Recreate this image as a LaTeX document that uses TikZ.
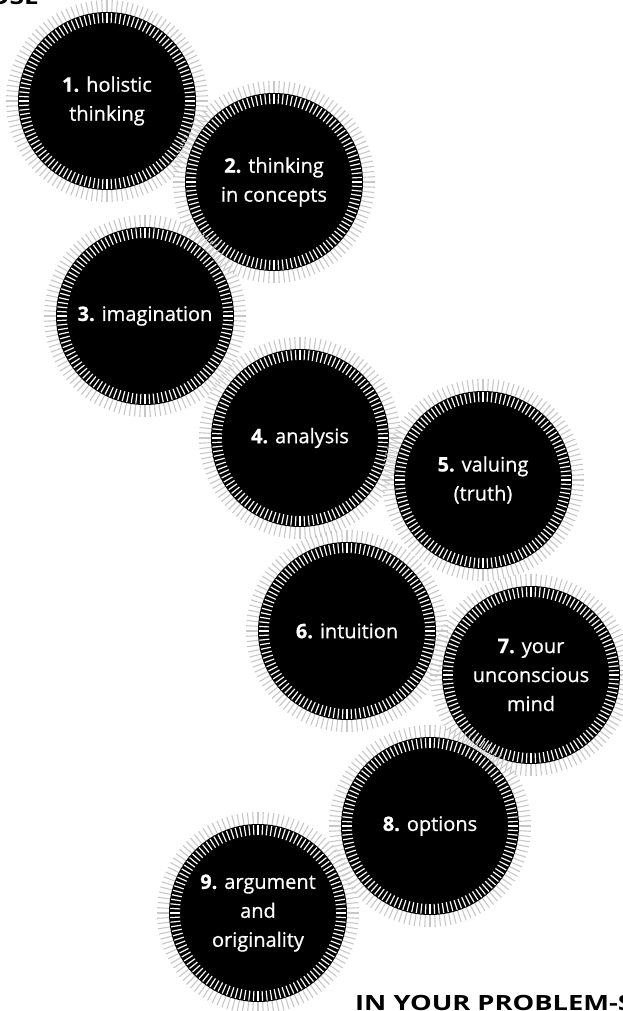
\documentclass[tikz,border=0pt]{standalone}
\usepackage{fontspec}
\setmainfont{Open Sans}
\definecolor{tickgrey}{gray}{0.78}
\tikzset{
  disc/.style={circle,fill=black,minimum size=178pt,inner sep=0pt,
    text=white,align=center,
    font=\fontsize{20}{29}\selectfont\addfontfeature{FakeBold=0.7}},
  outtick/.style={tickgrey,line width=1.1pt},
  intick/.style={white,line width=1.2pt},
  headline/.style={inner sep=0pt,font=\fontsize{21}{25}\selectfont\bfseries},
}
\begin{document}
\begin{tikzpicture}[x=1pt,y=-1pt]
\useasboundingbox (0,0) rectangle (623,1011);
\clip (0,0) rectangle (623,1011);
% page text cut by the frame
\node[headline,anchor=base east] (top) at (39,5) {\scalebox{1.25}[1]{OSE}};
\node[headline,anchor=base west] (bottom) at (355,1010) {\scalebox{1.3}[1]{IN YOUR PROBLEM-S}};
% the nine discs
\foreach \nm/\px/\py/\lbl in {%
  holistic/107/101/{\textbf{1.} holistic\\thinking},%
  concepts/274/182/{\textbf{2.} thinking\\in concepts},%
  imagination/145/316/{\textbf{3.} imagination},%
  analysis/300/438/{\textbf{4.} analysis},%
  valuing/483/480/{\textbf{5.} valuing\\(truth)},%
  intuition/347/631/{\textbf{6.} intuition},%
  unconscious/531/675/{\textbf{7.} your\\unconscious\\mind},%
  options/430/826/{\textbf{8.} options},%
  argument/258/913/{\textbf{9.} argument\\and\\originality}}{%
  \foreach \a in {0,3,...,357}{%
    \draw[outtick] (\px,\py) ++(\a:89) -- ++(\a:12);%
  }%
  \node[disc] (\nm) at (\px,\py) {\lbl};%
  \foreach \a in {0,3,...,357}{%
    \draw[intick] (\nm.center) ++(\a:78) -- ++(\a:10);%
  }%
}
\end{tikzpicture}
\end{document}
